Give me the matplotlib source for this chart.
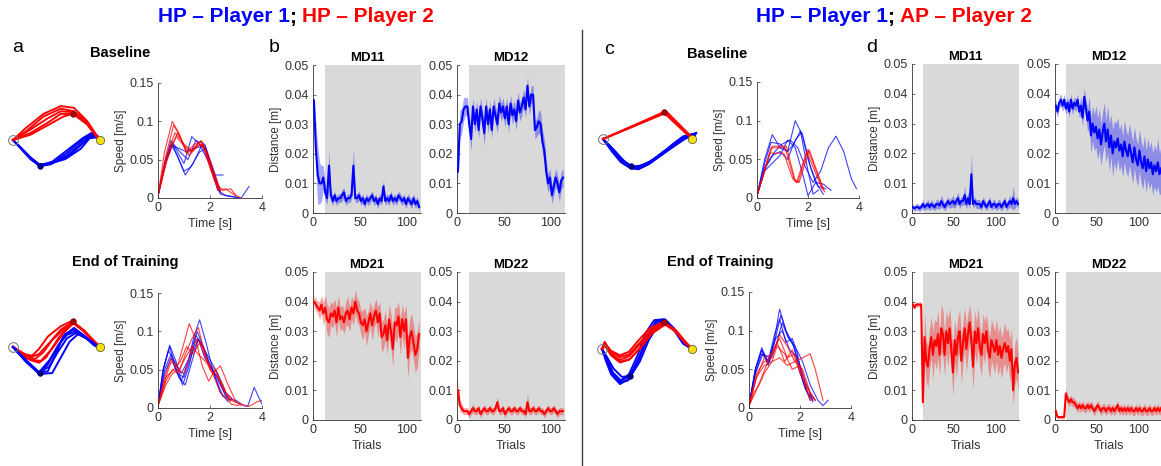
#Figura: trayectorias, perfiles de velocidad y distancias MD por ensayo
#HP-HP (izquierda) y HP-AP (derecha)

import matplotlib
matplotlib.use('Agg')
import matplotlib.pyplot as plt
from matplotlib.lines import Line2D
import numpy as np

plt.rcParams['font.family'] = ['Liberation Sans', 'DejaVu Sans']

#Colores
AZUL = '#0000ff'
ROJO = '#ff0000'
GRIS = '#d9d9d9'
EJE = '0.2'

#------------------------------------------------------------
#Datos: trayectorias (x normalizado inicio=0, fin=1)
#------------------------------------------------------------
#a - Baseline
a_base_rojo_x = [[0, 0.15, 0.35, 0.55, 0.7, 0.85, 0.95, 1.0],
                 [0, 0.15, 0.35, 0.55, 0.7, 0.85, 0.95, 1.0],
                 [0, 0.2, 0.4, 0.55, 0.69, 0.85, 0.95, 1.0],
                 [0, 0.2, 0.4, 0.55, 0.7, 0.85, 0.95, 1.0],
                 [0, 0.2, 0.4, 0.58, 0.72, 0.86, 0.95, 1.0]]
a_base_rojo_y = [[0, 0.14, 0.30, 0.39, 0.37, 0.22, 0.07, 0],
                 [0, 0.10, 0.27, 0.36, 0.33, 0.20, 0.06, 0],
                 [0, 0.08, 0.20, 0.30, 0.30, 0.18, 0.05, 0],
                 [0, 0.12, 0.25, 0.33, 0.32, 0.19, 0.06, 0],
                 [0, 0.06, 0.17, 0.27, 0.31, 0.20, 0.06, 0]]
a_base_azul_x = [[0, 0.1, 0.2, 0.31, 0.43, 0.62, 0.8, 0.89, 0.95, 1.0],
                 [0, 0.1, 0.2, 0.31, 0.45, 0.62, 0.8, 0.9, 0.97, 1.0],
                 [0, 0.1, 0.2, 0.31, 0.45, 0.62, 0.78, 0.88, 0.96, 1.0],
                 [0, 0.1, 0.2, 0.3, 0.43, 0.6, 0.78, 0.88, 0.96, 1.0],
                 [0, 0.1, 0.2, 0.31, 0.45, 0.62, 0.8, 0.9, 0.97, 1.0]]
a_base_azul_y = [[0, -0.10, -0.21, -0.30, -0.28, -0.18, -0.03, 0.06, 0.05, 0],
                 [0, -0.10, -0.20, -0.29, -0.27, -0.15, 0.00, 0.07, 0.04, 0],
                 [0, -0.11, -0.22, -0.30, -0.26, -0.20, -0.06, 0.04, 0.04, 0],
                 [0, -0.10, -0.20, -0.28, -0.27, -0.22, -0.10, 0.02, 0.03, 0],
                 [0, -0.10, -0.21, -0.29, -0.25, -0.12, 0.02, 0.08, 0.05, 0]]

#a - End of Training
a_fin_rojo_x = [[0, 0.1, 0.2, 0.3, 0.42, 0.55, 0.69, 0.8, 0.9, 1.0],
                [0, 0.1, 0.22, 0.32, 0.45, 0.58, 0.7, 0.82, 0.92, 1.0],
                [0, 0.1, 0.25, 0.35, 0.45, 0.58, 0.7, 0.82, 0.92, 1.0],
                [0, 0.12, 0.22, 0.3, 0.4, 0.55, 0.68, 0.8, 0.9, 1.0],
                [0, 0.1, 0.2, 0.3, 0.38, 0.52, 0.68, 0.8, 0.9, 1.0]]
a_fin_rojo_y = [[0, -0.06, -0.12, -0.08, 0.05, 0.20, 0.29, 0.20, 0.10, 0],
                [0, -0.07, -0.15, -0.16, -0.02, 0.16, 0.28, 0.18, 0.08, 0],
                [0, -0.08, -0.14, -0.06, 0.08, 0.20, 0.27, 0.19, 0.08, 0],
                [0, -0.08, -0.10, -0.02, 0.12, 0.24, 0.30, 0.20, 0.10, 0],
                [0, -0.10, -0.15, -0.18, -0.12, 0.10, 0.28, 0.19, 0.09, 0]]
a_fin_azul_x = [[0, 0.15, 0.3, 0.4, 0.5, 0.6, 0.7, 0.82, 0.92, 1.0],
                [0, 0.15, 0.3, 0.42, 0.52, 0.62, 0.72, 0.84, 0.93, 1.02],
                [0, 0.15, 0.3, 0.4, 0.48, 0.58, 0.7, 0.82, 0.93, 1.0],
                [0, 0.15, 0.3, 0.45, 0.55, 0.65, 0.75, 0.85, 0.95, 1.0],
                [0, 0.15, 0.3, 0.42, 0.52, 0.62, 0.72, 0.84, 0.94, 1.0]]
a_fin_azul_y = [[0, -0.16, -0.30, -0.20, -0.02, 0.15, 0.20, 0.12, 0.05, -0.02],
                [0, -0.17, -0.30, -0.22, -0.05, 0.10, 0.16, 0.10, 0.02, -0.03],
                [0, -0.15, -0.29, -0.28, -0.10, 0.12, 0.22, 0.13, 0.04, -0.01],
                [0, -0.17, -0.31, -0.30, -0.12, 0.06, 0.15, 0.10, 0.02, -0.02],
                [0, -0.16, -0.29, -0.15, 0.02, 0.14, 0.18, 0.10, 0.03, -0.01]]

#c - Baseline
c_base_rojo_x = [[0, 0.69, 1.0], [0, 0.70, 1.0], [0, 0.72, 1.0]]
c_base_rojo_y = [[0, 0.29, 0], [0, 0.31, 0], [0, 0.30, 0.02]]
c_base_azul_x = [[0, 0.1, 0.2, 0.3, 0.38, 0.5, 0.65, 0.8, 0.93, 1.05, 1.0],
                 [0, 0.1, 0.2, 0.3, 0.4, 0.52, 0.66, 0.8, 0.92, 1.03, 1.0],
                 [0, 0.1, 0.2, 0.31, 0.4, 0.5, 0.64, 0.78, 0.9, 1.02, 1.0],
                 [0, 0.12, 0.24, 0.33, 0.42, 0.54, 0.68, 0.82, 0.94, 1.04, 1.0],
                 [0, 0.1, 0.2, 0.3, 0.36, 0.48, 0.62, 0.78, 0.9, 1.02, 1.0]]
c_base_azul_y = [[0, -0.12, -0.24, -0.31, -0.32, -0.27, -0.17, -0.07, 0.02, 0.07, 0],
                 [0, -0.10, -0.22, -0.30, -0.33, -0.28, -0.18, -0.08, 0.00, 0.05, 0],
                 [0, -0.14, -0.26, -0.33, -0.34, -0.29, -0.18, -0.06, 0.03, 0.06, 0],
                 [0, -0.12, -0.25, -0.31, -0.30, -0.25, -0.14, -0.05, 0.03, 0.06, 0],
                 [0, -0.11, -0.23, -0.30, -0.32, -0.28, -0.20, -0.09, 0.01, 0.05, 0]]

#c - End of Training
c_fin_azul_x = [[0, 0.05, 0.12, 0.2, 0.3, 0.4, 0.5, 0.6, 0.7, 0.8, 0.9, 1.0],
                [0, 0.05, 0.12, 0.21, 0.31, 0.41, 0.5, 0.6, 0.7, 0.8, 0.9, 1.0],
                [0, 0.04, 0.1, 0.19, 0.29, 0.39, 0.49, 0.59, 0.69, 0.8, 0.9, 1.0],
                [0, 0.05, 0.13, 0.22, 0.32, 0.42, 0.52, 0.62, 0.72, 0.82, 0.92, 1.0],
                [0, 0.05, 0.12, 0.2, 0.3, 0.4, 0.48, 0.58, 0.68, 0.8, 0.9, 1.0]]
c_fin_azul_y = [[0, -0.12, -0.30, -0.39, -0.33, -0.12, 0.12, 0.30, 0.32, 0.22, 0.07, 0],
                [0, -0.10, -0.26, -0.35, -0.30, -0.10, 0.14, 0.31, 0.33, 0.23, 0.08, 0],
                [0, -0.12, -0.28, -0.37, -0.35, -0.16, 0.08, 0.27, 0.31, 0.21, 0.06, 0],
                [0, -0.08, -0.22, -0.31, -0.30, -0.14, 0.10, 0.26, 0.30, 0.20, 0.05, 0],
                [0, -0.11, -0.27, -0.36, -0.28, -0.06, 0.17, 0.32, 0.33, 0.22, 0.07, 0]]
c_fin_rojo_x = [[0, 0.03, 0.1, 0.2, 0.3, 0.42, 0.55, 0.7, 0.82, 0.92, 1.0],
                [0, 0.03, 0.1, 0.2, 0.3, 0.42, 0.55, 0.7, 0.82, 0.92, 1.0],
                [0, 0.03, 0.11, 0.21, 0.31, 0.43, 0.56, 0.7, 0.82, 0.92, 1.0],
                [0, 0.03, 0.1, 0.2, 0.3, 0.4, 0.53, 0.68, 0.8, 0.92, 1.0],
                [0, 0.03, 0.1, 0.2, 0.3, 0.42, 0.55, 0.7, 0.83, 0.93, 1.0]]
c_fin_rojo_y = [[0, 0.08, -0.05, -0.12, -0.08, 0.05, 0.20, 0.29, 0.20, 0.08, 0],
                [0, 0.06, -0.03, -0.09, -0.06, 0.07, 0.22, 0.29, 0.21, 0.09, 0],
                [0, 0.05, -0.06, -0.14, -0.11, 0.02, 0.18, 0.28, 0.19, 0.07, 0],
                [0, 0.07, -0.02, -0.07, -0.03, 0.09, 0.23, 0.30, 0.21, 0.08, 0],
                [0, 0.04, -0.07, -0.15, -0.12, 0.00, 0.17, 0.27, 0.19, 0.07, 0]]

#Puntos de via (x, y)
via_rojo = (0.69, 0.30)
via_azul = (0.31, -0.30)

#------------------------------------------------------------
#Datos: velocidad [m/s] vs tiempo [s]
#------------------------------------------------------------
a_base_vel_rojo = [([0, 0.25, 0.55, 0.8, 1.1, 1.4, 1.7, 2.0, 2.3, 2.6, 2.9, 3.2],
                    [0.003, 0.06, 0.1, 0.085, 0.06, 0.07, 0.074, 0.045, 0.01, 0.012, 0.005, 0.0]),
                   ([0, 0.3, 0.6, 0.85, 1.1, 1.4, 1.65, 1.9, 2.2, 2.5, 2.8, 3.0],
                    [0.003, 0.055, 0.095, 0.08, 0.058, 0.065, 0.075, 0.05, 0.02, 0.01, 0.012, 0.003]),
                   ([0, 0.35, 0.75, 1.0, 1.3, 1.55, 1.8, 2.1, 2.4],
                    [0.003, 0.05, 0.085, 0.07, 0.062, 0.072, 0.065, 0.035, 0.008]),
                   ([0, 0.4, 0.7, 1.0, 1.3, 1.6, 1.9, 2.2, 2.4],
                    [0.003, 0.06, 0.08, 0.068, 0.06, 0.07, 0.06, 0.03, 0.01]),
                   ([0, 0.3, 0.65, 0.9, 1.2, 1.5, 1.75, 2.0, 2.3],
                    [0.003, 0.05, 0.085, 0.075, 0.055, 0.068, 0.07, 0.04, 0.012])]
a_base_vel_azul = [([0, 0.25, 0.5, 0.75, 1.0, 1.3, 1.6, 1.9, 2.2, 2.5],
                    [0.003, 0.045, 0.075, 0.06, 0.045, 0.08, 0.07, 0.05, 0.03, 0.03]),
                   ([0, 0.3, 0.55, 0.8, 1.05, 1.35, 1.7, 2.0, 2.3, 2.6, 2.9, 3.2, 3.5],
                    [0.003, 0.045, 0.07, 0.05, 0.03, 0.045, 0.07, 0.045, 0.01, 0.003, 0.002, 0.0, 0.015]),
                   ([0, 0.3, 0.5, 0.8, 1.1, 1.4, 1.8, 2.1, 2.4],
                    [0.003, 0.05, 0.068, 0.065, 0.06, 0.065, 0.068, 0.04, 0.008]),
                   ([0, 0.3, 0.5, 0.75, 1.0, 1.25, 1.6, 1.85, 2.1, 2.4, 2.8, 3.1],
                    [0.003, 0.05, 0.07, 0.055, 0.035, 0.04, 0.06, 0.065, 0.035, 0.005, 0.002, 0.0]),
                   ([0, 0.3, 0.55, 0.85, 1.15, 1.45, 1.8, 2.05, 2.3],
                    [0.003, 0.048, 0.072, 0.06, 0.05, 0.075, 0.07, 0.04, 0.015])]

a_fin_vel_azul = [([0, 0.2, 0.45, 0.7, 0.9, 1.15, 1.4, 1.6, 1.85, 2.1, 2.4, 2.7],
                   [0.003, 0.05, 0.082, 0.06, 0.035, 0.06, 0.095, 0.115, 0.085, 0.05, 0.02, 0.008]),
                  ([0, 0.2, 0.45, 0.7, 0.95, 1.2, 1.5, 1.75, 2.0, 2.3, 2.6, 2.8],
                   [0.003, 0.05, 0.08, 0.05, 0.03, 0.055, 0.1, 0.08, 0.055, 0.04, 0.015, 0.01]),
                  ([0, 0.25, 0.5, 0.75, 1.0, 1.3, 1.55, 1.8, 2.1, 2.4, 2.7, 3.0, 3.3, 3.45, 3.7, 3.9, 4.0],
                   [0.003, 0.05, 0.07, 0.045, 0.04, 0.07, 0.09, 0.065, 0.05, 0.03, 0.012, 0.01, 0.003, 0.002, 0.027, 0.012, 0.005]),
                  ([0, 0.25, 0.5, 0.8, 1.05, 1.3, 1.55, 1.8, 2.05, 2.3, 2.6, 2.85],
                   [0.003, 0.045, 0.065, 0.04, 0.03, 0.06, 0.09, 0.075, 0.06, 0.045, 0.02, 0.012]),
                  ([0, 0.2, 0.4, 0.65, 0.9, 1.2, 1.45, 1.65, 1.9, 2.2, 2.5],
                   [0.003, 0.05, 0.075, 0.06, 0.045, 0.065, 0.095, 0.085, 0.065, 0.04, 0.015])]
a_fin_vel_rojo = [([0, 0.3, 0.5, 0.75, 1.0, 1.2, 1.45, 1.7, 1.95, 2.2, 2.5, 2.8, 3.1],
                   [0.003, 0.04, 0.06, 0.055, 0.085, 0.11, 0.09, 0.055, 0.035, 0.05, 0.03, 0.005, 0.003]),
                  ([0, 0.3, 0.55, 0.8, 1.05, 1.3, 1.55, 1.8, 2.1, 2.4, 2.7, 3.0],
                   [0.003, 0.035, 0.05, 0.045, 0.07, 0.09, 0.105, 0.07, 0.045, 0.055, 0.03, 0.008]),
                  ([0, 0.3, 0.6, 0.85, 1.1, 1.35, 1.6, 1.9, 2.2, 2.5, 2.8, 3.2, 3.5, 3.8, 4.0],
                   [0.003, 0.04, 0.05, 0.06, 0.08, 0.07, 0.085, 0.06, 0.05, 0.025, 0.01, 0.005, 0.002, 0.008, 0.01]),
                  ([0, 0.25, 0.5, 0.75, 1.0, 1.25, 1.5, 1.75, 2.0, 2.3, 2.6, 2.9, 3.2],
                   [0.003, 0.04, 0.065, 0.05, 0.045, 0.07, 0.09, 0.08, 0.05, 0.04, 0.02, 0.01, 0.003]),
                  ([0, 0.3, 0.55, 0.8, 1.05, 1.3, 1.55, 1.85, 2.1, 2.4, 2.7],
                   [0.003, 0.03, 0.045, 0.05, 0.065, 0.08, 0.07, 0.06, 0.045, 0.02, 0.01])]

c_base_vel_rojo = [([0, 0.55, 1.1, 1.45, 1.6, 2.0, 2.6], [0.003, 0.065, 0.065, 0.025, 0.02, 0.063, 0.01]),
                   ([0, 0.5, 1.05, 1.4, 1.55, 1.95, 2.55], [0.003, 0.058, 0.058, 0.025, 0.02, 0.06, 0.012]),
                   ([0, 0.6, 1.15, 1.5, 1.65, 2.05, 2.65], [0.003, 0.067, 0.067, 0.022, 0.02, 0.062, 0.008])]
c_base_vel_azul = [([0, 0.3, 0.6, 0.9, 1.2, 1.5, 1.8, 2.1, 2.4, 2.7],
                    [0.003, 0.05, 0.082, 0.065, 0.06, 0.1, 0.08, 0.04, 0.015, 0.012]),
                   ([0, 0.3, 0.55, 0.9, 1.2, 1.45, 1.7, 2.0, 2.2, 2.4],
                    [0.003, 0.045, 0.072, 0.07, 0.06, 0.07, 0.087, 0.035, 0.005, 0.01]),
                   ([0, 0.35, 0.7, 1.0, 1.3, 1.6, 1.9, 2.2, 2.5, 2.8, 3.1, 3.4, 3.7, 3.9],
                    [0.003, 0.04, 0.06, 0.07, 0.075, 0.065, 0.04, 0.02, 0.035, 0.065, 0.08, 0.06, 0.025, 0.012]),
                   ([0, 0.3, 0.6, 0.9, 1.2, 1.5, 1.8, 2.0, 2.3, 2.6],
                    [0.003, 0.035, 0.045, 0.055, 0.075, 0.065, 0.03, 0.003, 0.02, 0.005]),
                   ([0, 0.3, 0.6, 0.9, 1.2, 1.5, 1.75, 2.0, 2.3, 2.6, 2.9],
                    [0.003, 0.04, 0.055, 0.06, 0.05, 0.075, 0.085, 0.05, 0.02, 0.018, 0.01])]

c_fin_vel_azul = [([0, 0.25, 0.5, 0.75, 1.0, 1.2, 1.45, 1.7, 1.95, 2.2, 2.5],
                   [0.003, 0.05, 0.078, 0.058, 0.09, 0.128, 0.1, 0.085, 0.06, 0.025, 0.008]),
                  ([0, 0.25, 0.5, 0.75, 1.0, 1.25, 1.5, 1.75, 2.0, 2.3, 2.6],
                   [0.003, 0.05, 0.075, 0.055, 0.085, 0.12, 0.095, 0.08, 0.045, 0.02, 0.01]),
                  ([0, 0.25, 0.5, 0.8, 1.05, 1.3, 1.55, 1.8, 2.1, 2.4, 2.7, 2.9, 3.1],
                   [0.003, 0.045, 0.07, 0.06, 0.08, 0.11, 0.09, 0.08, 0.06, 0.03, 0.01, 0.003, 0.01]),
                  ([0, 0.25, 0.5, 0.75, 1.0, 1.2, 1.45, 1.7, 1.9, 2.1, 2.4],
                   [0.003, 0.05, 0.075, 0.06, 0.095, 0.115, 0.085, 0.09, 0.07, 0.035, 0.01]),
                  ([0, 0.25, 0.55, 0.8, 1.05, 1.3, 1.6, 1.9, 2.2, 2.5],
                   [0.003, 0.045, 0.07, 0.065, 0.09, 0.1, 0.075, 0.065, 0.035, 0.01])]
c_fin_vel_rojo = [([0, 0.2, 0.4, 0.6, 0.9, 1.2, 1.5, 1.8, 2.1, 2.4, 2.6, 2.9],
                   [0.003, 0.02, 0.03, 0.045, 0.06, 0.065, 0.055, 0.06, 0.065, 0.07, 0.05, 0.01]),
                  ([0, 0.3, 0.6, 0.9, 1.2, 1.5, 1.8, 2.1, 2.4],
                   [0.003, 0.04, 0.065, 0.07, 0.09, 0.065, 0.07, 0.04, 0.01]),
                  ([0, 0.3, 0.6, 0.9, 1.2, 1.5, 1.8, 2.1, 2.4, 2.6],
                   [0.003, 0.045, 0.06, 0.065, 0.095, 0.08, 0.06, 0.05, 0.02, 0.01]),
                  ([0, 0.3, 0.6, 0.9, 1.1, 1.4, 1.7, 2.0, 2.3, 2.5],
                   [0.003, 0.04, 0.055, 0.06, 0.08, 0.07, 0.05, 0.055, 0.02, 0.01]),
                  ([0, 0.25, 0.5, 0.8, 1.1, 1.4, 1.7, 2.0, 2.3, 2.6],
                   [0.003, 0.02, 0.04, 0.065, 0.085, 0.06, 0.075, 0.045, 0.025, 0.01])]

#------------------------------------------------------------
#Datos: distancia media [m] por ensayo (ensayos 1,3,5,...) y semiancho de la banda
#------------------------------------------------------------
#b (HP-HP)
b_md11 = [0.038, 0.022, 0.013, 0.010, 0.010, 0.012, 0.007, 0.005, 0.016, 0.006,
          0.004, 0.006, 0.004, 0.005, 0.005, 0.006, 0.007, 0.004, 0.005, 0.005,
          0.006, 0.016, 0.005, 0.005, 0.006, 0.004, 0.005, 0.003, 0.005, 0.004,
          0.005, 0.006, 0.004, 0.005, 0.003, 0.005, 0.004, 0.009, 0.004, 0.005,
          0.004, 0.006, 0.004, 0.005, 0.004, 0.006, 0.005, 0.004, 0.005, 0.003,
          0.005, 0.004, 0.003, 0.005, 0.003, 0.004, 0.002]
b_md11_sd = [0.002, 0.008, 0.010, 0.007, 0.006, 0.004, 0.003, 0.002, 0.005, 0.002,
             0.0015, 0.0015, 0.0015, 0.0015, 0.0015, 0.002, 0.0015, 0.0015, 0.0015, 0.0015,
             0.0015, 0.006, 0.0015, 0.0015, 0.0015, 0.0015, 0.0015, 0.0015, 0.0015, 0.0015,
             0.0015, 0.0015, 0.0015, 0.0015, 0.0015, 0.0015, 0.0015, 0.002, 0.0015, 0.0015,
             0.0015, 0.0015, 0.0015, 0.0015, 0.0015, 0.0015, 0.0015, 0.0015, 0.0015, 0.0015,
             0.0015, 0.0015, 0.0015, 0.0015, 0.0015, 0.0015, 0.0015]
b_md12 = [0.014, 0.030, 0.031, 0.035, 0.036, 0.036, 0.030, 0.025, 0.036, 0.030,
          0.035, 0.028, 0.036, 0.032, 0.027, 0.036, 0.030, 0.035, 0.028, 0.036,
          0.033, 0.030, 0.037, 0.034, 0.036, 0.032, 0.036, 0.030, 0.037, 0.033,
          0.035, 0.031, 0.038, 0.034, 0.036, 0.039, 0.035, 0.043, 0.036, 0.040,
          0.040, 0.028, 0.029, 0.031, 0.030, 0.024, 0.021, 0.014, 0.010, 0.012,
          0.006, 0.009, 0.012, 0.010, 0.007, 0.011, 0.012]
b_md12_sd = [0.004, 0.005, 0.004, 0.004, 0.003, 0.003, 0.003, 0.004, 0.003, 0.003,
             0.003, 0.003, 0.003, 0.003, 0.004, 0.003, 0.003, 0.003, 0.003, 0.003,
             0.003, 0.003, 0.003, 0.003, 0.003, 0.003, 0.003, 0.003, 0.003, 0.003,
             0.003, 0.003, 0.003, 0.003, 0.003, 0.003, 0.003, 0.003, 0.003, 0.003,
             0.003, 0.003, 0.003, 0.004, 0.004, 0.004, 0.004, 0.004, 0.003, 0.003,
             0.003, 0.003, 0.003, 0.003, 0.003, 0.003, 0.003]
b_md21 = [0.040, 0.039, 0.038, 0.037, 0.039, 0.036, 0.038, 0.034, 0.033, 0.036,
          0.035, 0.037, 0.033, 0.038, 0.034, 0.035, 0.033, 0.036, 0.037, 0.034,
          0.038, 0.036, 0.040, 0.037, 0.036, 0.033, 0.032, 0.034, 0.030, 0.033,
          0.036, 0.032, 0.035, 0.037, 0.033, 0.036, 0.028, 0.029, 0.032, 0.027,
          0.034, 0.030, 0.024, 0.033, 0.032, 0.035, 0.028, 0.034, 0.030, 0.034,
          0.021, 0.028, 0.030, 0.026, 0.022, 0.024, 0.029]
b_md21_sd = [0.002, 0.002, 0.002, 0.003, 0.003, 0.004, 0.004, 0.005, 0.005, 0.004,
             0.004, 0.004, 0.005, 0.004, 0.004, 0.004, 0.004, 0.004, 0.005, 0.004,
             0.004, 0.004, 0.004, 0.004, 0.004, 0.004, 0.005, 0.004, 0.005, 0.004,
             0.004, 0.005, 0.004, 0.004, 0.005, 0.004, 0.005, 0.005, 0.005, 0.005,
             0.005, 0.006, 0.006, 0.005, 0.006, 0.005, 0.006, 0.005, 0.006, 0.005,
             0.007, 0.006, 0.006, 0.006, 0.006, 0.006, 0.005]
b_md22 = [0.010, 0.005, 0.004, 0.003, 0.003, 0.003, 0.002, 0.003, 0.004, 0.003,
          0.003, 0.004, 0.002, 0.003, 0.004, 0.003, 0.003, 0.004, 0.003, 0.003,
          0.004, 0.006, 0.003, 0.003, 0.004, 0.002, 0.003, 0.004, 0.003, 0.003,
          0.004, 0.003, 0.003, 0.004, 0.003, 0.003, 0.002, 0.006, 0.003, 0.003,
          0.004, 0.003, 0.003, 0.004, 0.003, 0.003, 0.002, 0.003, 0.004, 0.003,
          0.003, 0.004, 0.003, 0.002, 0.003, 0.003, 0.003]
b_md22_sd = [0.004, 0.002, 0.0015, 0.0012, 0.0012, 0.0012, 0.0012, 0.0012, 0.0015, 0.0012,
             0.0012, 0.0012, 0.0012, 0.0012, 0.0012, 0.0012, 0.0012, 0.0012, 0.0012, 0.0012,
             0.0012, 0.002, 0.0012, 0.0012, 0.0012, 0.0012, 0.0012, 0.0012, 0.0012, 0.0012,
             0.0012, 0.0012, 0.0012, 0.0012, 0.0012, 0.0012, 0.0012, 0.003, 0.0012, 0.0012,
             0.0012, 0.0012, 0.0012, 0.0012, 0.0012, 0.0012, 0.0012, 0.0012, 0.0012, 0.0012,
             0.0012, 0.0012, 0.0012, 0.0012, 0.0012, 0.0012, 0.0012]

#d (HP-AP)
d_md11 = [0.002, 0.0015, 0.002, 0.002, 0.0015, 0.002, 0.003, 0.002, 0.0025, 0.003,
          0.002, 0.003, 0.0025, 0.002, 0.003, 0.003, 0.0025, 0.004, 0.003, 0.002,
          0.003, 0.004, 0.003, 0.0035, 0.004, 0.003, 0.004, 0.005, 0.003, 0.004,
          0.004, 0.006, 0.003, 0.005, 0.003, 0.013, 0.003, 0.004, 0.003, 0.003,
          0.003, 0.002, 0.004, 0.003, 0.002, 0.003, 0.004, 0.002, 0.003, 0.003,
          0.002, 0.003, 0.003, 0.002, 0.003, 0.004, 0.002, 0.003, 0.004, 0.003,
          0.005, 0.003, 0.004, 0.003]
d_md11_sd = [0.001, 0.001, 0.0012, 0.0012, 0.0012, 0.0012, 0.0015, 0.0012, 0.0012, 0.0015,
             0.0012, 0.0015, 0.0012, 0.0012, 0.0015, 0.0015, 0.0012, 0.002, 0.0015, 0.0012,
             0.0015, 0.0015, 0.0015, 0.0015, 0.002, 0.0015, 0.0015, 0.002, 0.0015, 0.0015,
             0.0015, 0.003, 0.0015, 0.002, 0.0015, 0.007, 0.0015, 0.0015, 0.0015, 0.0015,
             0.0015, 0.0012, 0.0015, 0.0015, 0.0012, 0.0015, 0.0015, 0.0012, 0.0015, 0.0015,
             0.0012, 0.0015, 0.0015, 0.0012, 0.0015, 0.0015, 0.0012, 0.0015, 0.002, 0.0015,
             0.004, 0.0015, 0.0015, 0.0015]
d_md12 = [0.036, 0.034, 0.037, 0.038, 0.036, 0.038, 0.035, 0.037, 0.034, 0.038,
          0.035, 0.037, 0.036, 0.038, 0.034, 0.036, 0.032, 0.039, 0.035, 0.031,
          0.034, 0.026, 0.030, 0.027, 0.029, 0.025, 0.028, 0.023, 0.027, 0.030,
          0.024, 0.028, 0.022, 0.026, 0.020, 0.024, 0.022, 0.025, 0.021, 0.023,
          0.019, 0.024, 0.021, 0.019, 0.023, 0.020, 0.017, 0.022, 0.018, 0.016,
          0.021, 0.017, 0.015, 0.019, 0.014, 0.018, 0.015, 0.017, 0.013, 0.016,
          0.014, 0.017, 0.013, 0.015]
d_md12_sd = [0.002, 0.002, 0.002, 0.002, 0.002, 0.002, 0.002, 0.002, 0.002, 0.002,
             0.002, 0.002, 0.002, 0.002, 0.002, 0.003, 0.003, 0.003, 0.003, 0.004,
             0.005, 0.006, 0.006, 0.006, 0.007, 0.007, 0.007, 0.007, 0.007, 0.007,
             0.007, 0.008, 0.008, 0.007, 0.008, 0.007, 0.008, 0.007, 0.007, 0.007,
             0.007, 0.007, 0.007, 0.007, 0.007, 0.007, 0.007, 0.007, 0.007, 0.007,
             0.007, 0.007, 0.007, 0.007, 0.007, 0.007, 0.007, 0.007, 0.007, 0.007,
             0.007, 0.008, 0.007, 0.008]
d_md21 = [0.039, 0.038, 0.039, 0.039, 0.039, 0.039, 0.006, 0.028, 0.020, 0.018,
          0.024, 0.028, 0.022, 0.027, 0.025, 0.029, 0.022, 0.031, 0.029, 0.022,
          0.030, 0.026, 0.031, 0.024, 0.016, 0.027, 0.022, 0.028, 0.030, 0.020,
          0.026, 0.031, 0.024, 0.029, 0.033, 0.027, 0.018, 0.030, 0.026, 0.031,
          0.025, 0.022, 0.029, 0.026, 0.030, 0.024, 0.021, 0.027, 0.025, 0.023,
          0.027, 0.022, 0.025, 0.021, 0.024, 0.026, 0.023, 0.025, 0.020, 0.024,
          0.010, 0.019, 0.021, 0.016]
d_md21_sd = [0.0008, 0.0008, 0.0008, 0.0008, 0.0008, 0.0008, 0.004, 0.008, 0.007, 0.007,
             0.007, 0.007, 0.008, 0.007, 0.008, 0.008, 0.007, 0.008, 0.008, 0.007,
             0.007, 0.008, 0.007, 0.007, 0.008, 0.007, 0.008, 0.007, 0.007, 0.008,
             0.007, 0.007, 0.008, 0.007, 0.006, 0.007, 0.008, 0.007, 0.007, 0.007,
             0.007, 0.007, 0.007, 0.007, 0.006, 0.007, 0.007, 0.007, 0.007, 0.007,
             0.007, 0.007, 0.007, 0.007, 0.006, 0.007, 0.007, 0.006, 0.007, 0.007,
             0.005, 0.007, 0.007, 0.006]
d_md22 = [0.003, 0.001, 0.001, 0.001, 0.001, 0.001, 0.009, 0.007, 0.006, 0.007,
          0.006, 0.006, 0.005, 0.004, 0.005, 0.004, 0.005, 0.004, 0.004, 0.005,
          0.004, 0.005, 0.004, 0.003, 0.004, 0.005, 0.004, 0.003, 0.004, 0.004,
          0.003, 0.004, 0.004, 0.003, 0.004, 0.003, 0.004, 0.005, 0.003, 0.004,
          0.003, 0.004, 0.003, 0.004, 0.003, 0.004, 0.003, 0.003, 0.004, 0.003,
          0.004, 0.003, 0.003, 0.004, 0.003, 0.003, 0.004, 0.003, 0.003, 0.004,
          0.003, 0.004, 0.003, 0.004]
d_md22_sd = [0.001, 0.0006, 0.0006, 0.0006, 0.0006, 0.0006, 0.0015, 0.0015, 0.0015, 0.0015,
             0.0015, 0.0015, 0.0015, 0.0015, 0.0015, 0.0015, 0.0015, 0.0015, 0.0015, 0.0015,
             0.0015, 0.0015, 0.0015, 0.0015, 0.0015, 0.0015, 0.0015, 0.0015, 0.0015, 0.0015,
             0.0015, 0.0015, 0.0015, 0.0015, 0.0015, 0.0015, 0.0015, 0.0015, 0.0015, 0.0015,
             0.0015, 0.0015, 0.0015, 0.0015, 0.0015, 0.0015, 0.0015, 0.0015, 0.0015, 0.0015,
             0.0015, 0.0015, 0.0015, 0.0015, 0.0015, 0.0015, 0.0015, 0.0015, 0.0015, 0.0015,
             0.0015, 0.0015, 0.0015, 0.0015]

INICIO_ENTRENAMIENTO = 13   #ensayo donde empieza la zona gris

#------------------------------------------------------------
W, H = 1161, 466
fig = plt.figure(figsize=(W/100, H/100), dpi=100)

#Función para crear ejes a partir de una caja en pixeles (x0,y0 arriba-izq)
def ejes_px(x0, y0, x1, y1):
	return fig.add_axes([x0/W, 1-y1/H, (x1-x0)/W, (y1-y0)/H])

def estilo(ax):
	for s in ['top', 'right']:
		ax.spines[s].set_visible(False)
	for s in ['left', 'bottom']:
		ax.spines[s].set_color(EJE)
		ax.spines[s].set_linewidth(0.6)
	ax.tick_params(direction='in', length=2, width=0.5, colors=EJE, labelsize=9, pad=3)

#Trayectorias: inicio y fin en pixeles
def trayectorias(xi, xf, yc, rojos, azules, orden_azul_arriba=False):
	L = xf - xi
	ax = ejes_px(xi-15, yc-50, xf+15, yc+50)
	ax.set_xlim(-15/L, 1+15/L)
	ax.set_ylim(-50/L, 50/L)
	ax.axis('off')
	z_r, z_a = (3, 4) if orden_azul_arriba else (4, 3)
	for xs, ys in zip(*azules):
		ax.plot(xs, ys, color=AZUL, lw=1.4, zorder=z_a)
	for xs, ys in zip(*rojos):
		ax.plot(xs, ys, color=ROJO, lw=1.4, zorder=z_r)
	ax.plot(0, 0, 'o', ms=7, mfc='none', mec='0.45', mew=0.7, zorder=6)
	ax.plot(1, 0, 'o', ms=6, mfc='#f5e000', mec='0.3', mew=0.5, zorder=5)
	ax.plot(*via_rojo, 'o', ms=4, mfc='#b00000', mec='#600000', mew=0.5, zorder=6)
	ax.plot(*via_azul, 'o', ms=4, mfc='#000090', mec='#000050', mew=0.5, zorder=6)
	return ax

def velocidad(box, rojos, azules):
	ax = ejes_px(*box)
	for t, v in azules:
		ax.plot(t, v, color=AZUL, lw=0.8, alpha=0.75)
	for t, v in rojos:
		ax.plot(t, v, color=ROJO, lw=0.8, alpha=0.75)
	ax.set_xlim(0, 4)
	ax.set_ylim(0, 0.15)
	ax.set_xticks([0, 2, 4])
	ax.set_yticks([0, 0.05, 0.1, 0.15])
	ax.set_yticklabels(['0', '0.05', '0.1', '0.15'])
	estilo(ax)
	ax.set_xlabel('Time [s]', fontsize=9, color=EJE, labelpad=3)
	ax.set_ylabel('Speed [m/s]', fontsize=8.5, color=EJE, labelpad=2)
	return ax

def distancia(box, media, sd, col, xmax, titulo, ylab=False, xlab=False):
	ax = ejes_px(*box)
	media = np.array(media)
	sd = np.array(sd)
	ensayos = np.arange(1, 2*len(media), 2)
	ax.axvspan(INICIO_ENTRENAMIENTO, xmax, color=GRIS, lw=0, zorder=2.6)
	ax.fill_between(ensayos, media-sd, media+sd, color=col, alpha=0.35, lw=0, zorder=2.7)
	ax.plot(ensayos, media, color=col, lw=1.5, zorder=2.8)
	ax.set_xlim(0, xmax)
	ax.set_ylim(0, 0.05)
	ax.set_xticks([0, 50, 100])
	ax.set_yticks([0, 0.01, 0.02, 0.03, 0.04, 0.05])
	ax.set_yticklabels(['0', '0.01', '0.02', '0.03', '0.04', '0.05'])
	estilo(ax)
	ax.set_title(titulo, fontsize=9.5, fontweight='bold', pad=3)
	if ylab:
		ax.set_ylabel('Distance [m]', fontsize=8.5, color=EJE, labelpad=2)
	if xlab:
		ax.set_xlabel('Trials', fontsize=9, color=EJE, labelpad=3)
	return ax

#---------------- Panel a ----------------
trayectorias(13, 100, 140, (a_base_rojo_x, a_base_rojo_y), (a_base_azul_x, a_base_azul_y))
trayectorias(13, 100, 347, (a_fin_rojo_x, a_fin_rojo_y), (a_fin_azul_x, a_fin_azul_y), True)
velocidad((158, 83, 262, 198), a_base_vel_rojo, a_base_vel_azul)
velocidad((158, 293, 262, 408), a_fin_vel_rojo, a_fin_vel_azul)

#---------------- Panel b ----------------
distancia((313, 65, 421, 213), b_md11, b_md11_sd, AZUL, 115, 'MD11', ylab=True)
distancia((457, 65, 565, 213), b_md12, b_md12_sd, AZUL, 115, 'MD12')
distancia((313, 272, 421, 420), b_md21, b_md21_sd, ROJO, 115, 'MD21', ylab=True, xlab=True)
distancia((457, 272, 565, 420), b_md22, b_md22_sd, ROJO, 115, 'MD22', xlab=True)

#---------------- Panel c ----------------
trayectorias(603, 692, 139, (c_base_rojo_x, c_base_rojo_y), (c_base_azul_x, c_base_azul_y))
trayectorias(602, 692, 349, (c_fin_rojo_x, c_fin_rojo_y), (c_fin_azul_x, c_fin_azul_y))
velocidad((757, 82, 859, 198), c_base_vel_rojo, c_base_vel_azul)
velocidad((749, 292, 851, 408), c_fin_vel_rojo, c_fin_vel_azul)

#---------------- Panel d ----------------
distancia((912, 64, 1019, 213), d_md11, d_md11_sd, AZUL, 128, 'MD11', ylab=True)
distancia((1055, 64, 1162, 213), d_md12, d_md12_sd, AZUL, 128, 'MD12')
distancia((912, 272, 1019, 420), d_md21, d_md21_sd, ROJO, 128, 'MD21', ylab=True, xlab=True)
distancia((1055, 272, 1162, 420), d_md22, d_md22_sd, ROJO, 128, 'MD22', xlab=True)

#---------------- Textos ----------------
def texto(x, y, s, **kw):
	return fig.text(x/W, 1-y/H, s, **kw)

for (x, y, s) in [(18, 48, 'a'), (274, 48, 'b'), (609, 49, 'c'), (872, 48, 'd')]:
	texto(x, y, s, fontsize=14, ha='center', va='center')

for (x, y, s) in [(120, 53, 'Baseline'), (125, 262, 'End of Training'),
                  (717, 54, 'Baseline'), (720, 262, 'End of Training')]:
	texto(x, y, s, fontsize=10.5, fontweight='bold', ha='center', va='center')

#Titulos con colores
def titulo_color(cx, cy, partes):
	r = fig.canvas.get_renderer()
	ts = [texto(0, cy, s, color=c, fontsize=15, fontweight='bold', ha='left', va='center') for s, c in partes]
	anchos = [t.get_window_extent(renderer=r).width for t in ts]
	x = cx - sum(anchos)/2
	for t, w in zip(ts, anchos):
		t.set_x(x/W)
		x += w

titulo_color(296, 17, [('HP \u2013 Player 1', AZUL), ('; ', 'black'), ('HP \u2013 Player 2', ROJO)])
titulo_color(894, 17, [('HP \u2013 Player 1', AZUL), ('; ', 'black'), ('AP \u2013 Player 2', ROJO)])

#Linea divisoria
fig.add_artist(Line2D([582/W, 582/W], [0, 1-30/H], color='0.25', lw=1))

fig.savefig('out.png', dpi=100)
